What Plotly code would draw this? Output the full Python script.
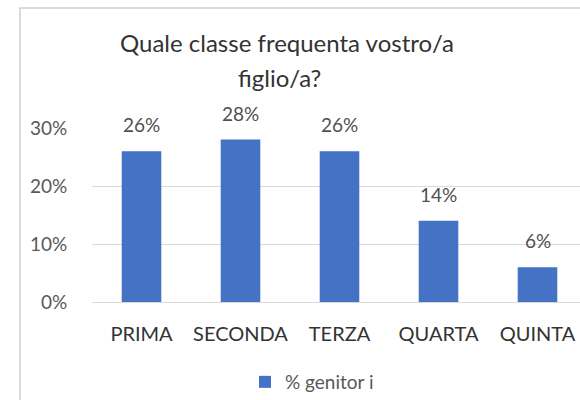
import plotly.graph_objects as go

categories = ["PRIMA", "SECONDA", "TERZA", "QUARTA", "QUINTA"]
values = [0.26, 0.28, 0.26, 0.14, 0.06]
labels = ["26%", "28%", "26%", "14%", "6%"]
series_name = "% genitor i"
title_lines = ["Quale classe frequenta vostro/a", "figlio/a?"]

W, H = 580, 400
L, R, T, B = 92, 0, 128, 98
pw, ph = W - L - R, H - T - B

def px_x(x):
    return (x - L) / pw

def px_y(y):
    return (H - B - y) / ph

FONT = "Lato"

fig = go.Figure()
fig.add_trace(go.Bar(
    x=categories, y=values, name=series_name, width=0.4,
    marker=dict(color="#4472C4", line=dict(width=0)),
    showlegend=True,
))

annotations = []
for c, v, t in zip(categories, values, labels):
    annotations.append(dict(
        x=c, y=v, xref="x", yref="y", text=t, showarrow=False,
        yanchor="bottom", yshift=13,
        font=dict(family=FONT, size=19, color="#505050"),
    ))
annotations.append(dict(
    x=px_x(287), y=px_y(42), xref="paper", yref="paper", text=title_lines[0],
    showarrow=False, xanchor="center", yanchor="middle",
    font=dict(family=FONT, size=24, color="#333333"),
))
annotations.append(dict(
    x=px_x(279), y=px_y(77), xref="paper", yref="paper", text=title_lines[1],
    showarrow=False, xanchor="center", yanchor="middle",
    font=dict(family=FONT, size=24, color="#333333"),
))

fig.update_layout(
    width=W, height=H,
    margin=dict(l=L, r=R, t=T, b=B, pad=0),
    paper_bgcolor="white", plot_bgcolor="white",
    bargap=0.6,
    annotations=annotations,
    shapes=[dict(
        type="rect", xref="paper", yref="paper",
        x0=px_x(20), x1=px_x(600), y0=px_y(420), y1=px_y(8),
        line=dict(color="#d0d0d0", width=1.5), fillcolor="rgba(0,0,0,0)",
        layer="below",
    )],
    legend=dict(
        orientation="h", xref="container", yref="container",
        x=312 / W, y=1 - 382 / H, xanchor="center", yanchor="middle",
        font=dict(family=FONT, size=19, color="#595959"),
        bgcolor="rgba(0,0,0,0)",
    ),
    xaxis=dict(
        range=[-0.5, -0.5 + pw / 99.0],
        showgrid=False, zeroline=False, showline=False,
        ticks="outside", ticklen=14, tickcolor="rgba(0,0,0,0)",
        tickfont=dict(family=FONT, size=20, color="#333333"),
        fixedrange=True,
    ),
    yaxis=dict(
        range=[0, 0.30], dtick=0.1, tickformat=".0%",
        showgrid=True, gridcolor="#d9d9d9", gridwidth=1,
        zeroline=True, zerolinecolor="#d9d9d9", zerolinewidth=1,
        showline=False,
        ticks="outside", ticklen=20, tickcolor="rgba(0,0,0,0)",
        tickfont=dict(family=FONT, size=19, color="#595959"),
        fixedrange=True,
    ),
)

fig.write_html("out.html")
